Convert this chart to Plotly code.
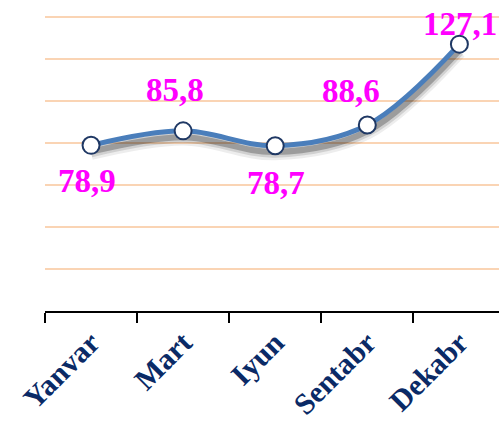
import plotly.graph_objects as go

months = ["Yanvar", "Mart", "Iyun", "Sentabr", "Dekabr"]
values = [78.9, 85.8, 78.7, 88.6, 127.1]
labels = ["78,9", "85,8", "78,7", "88,6", "127,1"]
label_shift_x = [-4, -8, 1, -16, 40]
label_shift_y = [-36, 41, -37, 34, 20]
label_anchor = ["center", "center", "center", "center", "right"]

fig = go.Figure()

# soft shadow under the line
for w, a, dy in [(14, 0.07, 3.6), (10, 0.12, 3.3), (6, 0.25, 3.0)]:
    fig.add_trace(go.Scatter(
        x=months, y=[v - dy for v in values], mode="lines",
        line=dict(color=f"rgba(0,0,0,{a})", width=w, shape="spline", smoothing=1),
        hoverinfo="skip", showlegend=False))

fig.add_trace(go.Scatter(
    x=months, y=values, mode="lines+markers",
    line=dict(color="#4A7EBB", width=5, shape="spline", smoothing=1),
    marker=dict(size=17, color="white", line=dict(color="#1F3864", width=2)),
    showlegend=False))

for i, (m, v, t) in enumerate(zip(months, values, labels)):
    fig.add_annotation(x=m, y=v, text=t, showarrow=False,
                       xanchor=label_anchor[i],
                       xshift=label_shift_x[i], yshift=label_shift_y[i],
                       font=dict(family="Liberation Serif", size=33, color="#FF00FF", weight="bold"))

fig.update_xaxes(
    type="category",
    range=[-0.5, 4.43],
    tickangle=-45,
    tickfont=dict(family="Liberation Serif", size=30, color="#0A2A66", weight="bold"),
    showgrid=False, showline=True, linecolor="black", linewidth=2,
    ticks="outside", ticklen=10, tickwidth=2, tickcolor="black",
    tickson="boundaries",
    zeroline=False, automargin=False,
)
fig.update_yaxes(
    range=[0, 140.5], dtick=20, showticklabels=False,
    showgrid=True, gridcolor="#FAD4B4", gridwidth=2,
    zeroline=False, showline=False, ticks="", automargin=False,
)

fig.update_layout(
    width=499, height=423,
    margin=dict(l=45, r=0, t=16, b=112),
    plot_bgcolor="white", paper_bgcolor="white",
)

fig.write_html("out.html", config={"displayModeBar": False},
               post_script="document.body.style.margin='0';document.body.style.overflow='hidden';")
